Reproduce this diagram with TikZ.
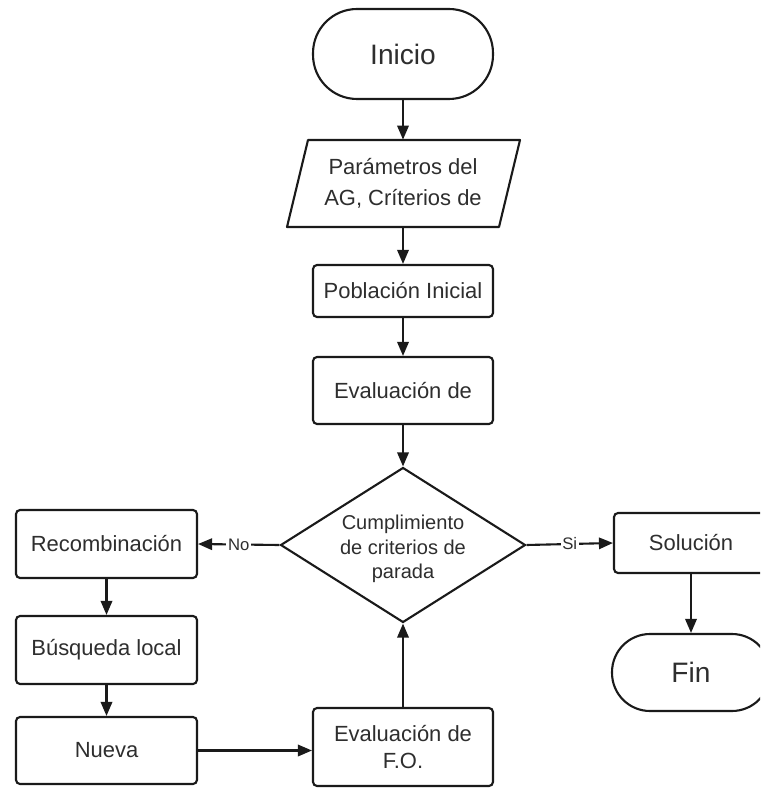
\documentclass[tikz,border=0pt]{standalone}
\usepackage{fontspec}
\setmainfont{Liberation Sans}
\usetikzlibrary{arrows.meta,shapes.geometric}
\definecolor{ln}{HTML}{1A1A1A}
\definecolor{tx}{HTML}{2E2E2E}
\begin{document}
\begin{tikzpicture}[x=0.02cm,y=-0.02cm,
  box/.style={draw=ln,line width=1.2pt,rounded corners=0.08cm,minimum width=3.6cm,inner sep=0pt,text=tx,font=\fontsize{12.5}{15.5}\selectfont,align=center},
  term/.style={draw=ln,line width=1.2pt,rounded corners=0.88cm,inner sep=0pt,text=tx,font=\fontsize{16}{19}\selectfont},
  arr/.style={draw=ln,line width=1.2pt,-{Triangle[length=8pt,width=6.5pt]}},
  lbl/.style={fill=white,inner sep=1pt,text=tx,font=\fontsize{9.5}{11}\selectfont}]
\useasboundingbox (0,0) rectangle (760,793);
\clip (0,0) rectangle (760,793);
\fill[white] (0,0) rectangle (760,793);
% terminals
\node[term,minimum width=3.6cm,minimum height=1.8cm] (inicio) at (403,54) {Inicio};
% parallelogram
\draw[ln,line width=1.2pt,line join=round] (308,140) -- (520,140) -- (499,227) -- (287,227) -- cycle;
\node[inner sep=0pt,minimum width=4.2cm,minimum height=1.74cm,text=tx,font=\fontsize{12.5}{18}\selectfont,align=center] (param) at (403,183.5) {Parámetros del\\AG, Críterios de};
\node[box,minimum height=1.04cm] (pob) at (403,291) {Población Inicial};
\node[box,minimum height=1.34cm] (eval) at (403,390.5) {Evaluación de};
\node[diamond,draw=ln,line width=1.2pt,aspect=1.58,inner sep=0pt,minimum width=4.9cm,minimum height=3.1cm] (diam) at (403,545) {};
\node[text=tx,font=\fontsize{11.4}{13.8}\selectfont,align=center] (diamtxt) at (403,549) {Cumplimiento\\de criterios de\\parada};
\node[box,minimum width=3.62cm,minimum height=1.36cm] (recomb) at (106.5,544) {Recombinación};
\node[box,minimum width=3.62cm,minimum height=1.36cm] (busq) at (106.5,650) {Búsqueda local};
\node[box,minimum width=3.62cm,minimum height=1.34cm] (nueva) at (106.5,750.5) {Nueva};
\node[box,minimum height=1.56cm,font=\fontsize{12.5}{15.4}\selectfont] (evalfo) at (403,747) {Evaluación de\\F.O.};
\node[box,minimum width=3.08cm,minimum height=1.2cm] (sol) at (691,543) {Solución};
\node[term,minimum width=3.16cm,minimum height=1.54cm,rounded corners=0.76cm] (fin) at (691,672.5) {Fin};
% connectors
\draw[arr] (inicio) -- (param);
\draw[arr] (param) -- (pob);
\draw[arr] (pob) -- (eval);
\draw[arr] (eval) -- (diam);
\draw[arr] (diam.west) -- node[lbl]{No} (recomb.east);
\draw[arr] (diam.east) -- node[lbl]{Si} (sol.west);
\draw[arr] (recomb) -- (busq);
\draw[arr] (busq) -- (nueva);
\draw[arr] (nueva.east) -- (nueva.east -| evalfo.west);
\draw[arr] (evalfo) -- (diam);
\draw[arr] (sol) -- (fin);
\end{tikzpicture}
\end{document}
